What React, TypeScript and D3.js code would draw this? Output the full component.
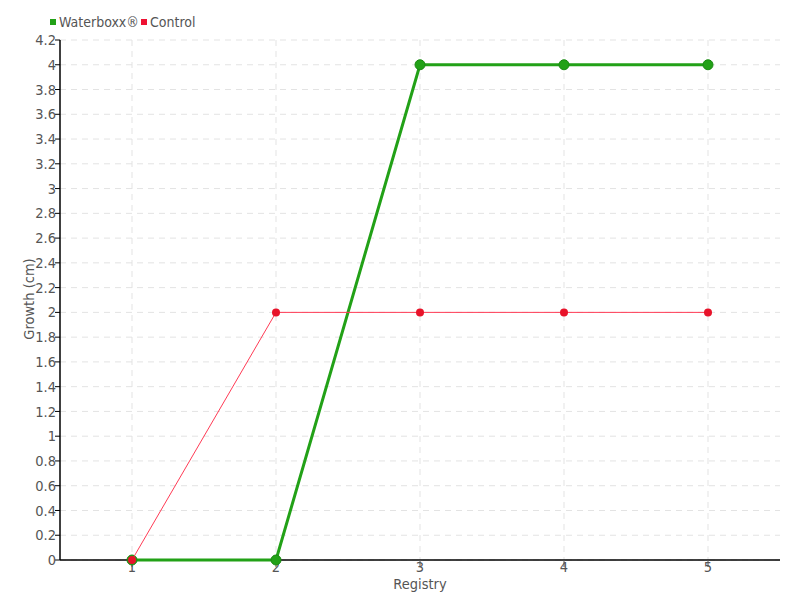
import React from "react";
import * as d3 from "d3";

const categories = [1, 2, 3, 4, 5];
const waterboxx = [0, 0, 4, 4, 4];
const control = [0, 2, 2, 2, 2];
const yTicks = [0, 0.2, 0.4, 0.6, 0.8, 1, 1.2, 1.4, 1.6, 1.8, 2, 2.2, 2.4, 2.6, 2.8, 3, 3.2, 3.4, 3.6, 3.8, 4, 4.2];

const W = 800, H = 600;
const left = 60, right = 780, top = 40, bottom = 560;
const font = "'DejaVu Sans Condensed', 'DejaVu Sans', sans-serif";
const textColor = "#555";

export default function App() {
  const x = d3.scalePoint<number>().domain(categories).range([left, right]).padding(0.5);
  const y = d3.scaleLinear().domain([0, 4.2]).range([bottom, top]);
  const line = d3.line<number>().x((_, i) => x(categories[i])!).y((d) => y(d));
  const green = "#22a117";
  const red = "#ff3b55";
  return (
    <svg width={W} height={H} style={{ position: "absolute", left: 0, top: 0 }} fontFamily={font}>
      <rect width={W} height={H} fill="#fff" />
      {yTicks.map((t) => (
        <line key={"gy" + t} x1={left} x2={right} y1={y(t)} y2={y(t)} stroke="#e3e3e3" strokeDasharray="6,5" />
      ))}
      {categories.map((c) => (
        <line key={"gx" + c} x1={x(c)} x2={x(c)} y1={top} y2={bottom} stroke="#e3e3e3" strokeDasharray="6,5" />
      ))}
      <line x1={left} x2={left} y1={top} y2={bottom} stroke="#000" strokeWidth={1.5} />
      <line x1={left} x2={right} y1={bottom} y2={bottom} stroke="#000" strokeWidth={1.5} />
      {yTicks.map((t) => (
        <g key={"ty" + t}>
          <line x1={left - 5} x2={left} y1={y(t)} y2={y(t)} stroke="#000" />
          <text x={left - 4} y={y(t)} dy="0.35em" textAnchor="end" fontSize={14.5} fill={textColor}>
            {String(t)}
          </text>
        </g>
      ))}
      {categories.map((c) => (
        <g key={"tx" + c}>
          <line x1={x(c)} x2={x(c)} y1={bottom} y2={bottom + 7} stroke="#555" />
          <text x={x(c)} y={567} dy="0.35em" textAnchor="middle" fontSize={14.5} fill={textColor}>
            {c}
          </text>
        </g>
      ))}
      <text x={420} y={589} textAnchor="middle" fontSize={14.5} fill={textColor}>Registry</text>
      <text transform="translate(34,299) rotate(-90)" textAnchor="middle" fontSize={14.5} fill={textColor}>Growth (cm)</text>

      <path d={line(waterboxx)!} fill="none" stroke={green} strokeWidth={3} />
      {waterboxx.map((v, i) => (
        <circle key={"wp" + i} cx={x(categories[i])} cy={y(v)} r={5} fill={green} stroke="#1a8a12" strokeWidth={1} />
      ))}
      <path d={line(control)!} fill="none" stroke={red} strokeWidth={1} />
      {control.map((v, i) => (
        <circle key={"cp" + i} cx={x(categories[i])} cy={y(v)} r={4} fill="#e8132a" />
      ))}

      <rect x={50} y={19} width={6} height={6} fill={green} />
      <text x={59} y={22} dy="0.35em" fontSize={14} fill={textColor}>Waterboxx®</text>
      <rect x={141} y={19} width={6} height={6} fill="#ee1133" />
      <text x={150} y={22} dy="0.35em" fontSize={14} fill={textColor}>Control</text>
    </svg>
  );
}
